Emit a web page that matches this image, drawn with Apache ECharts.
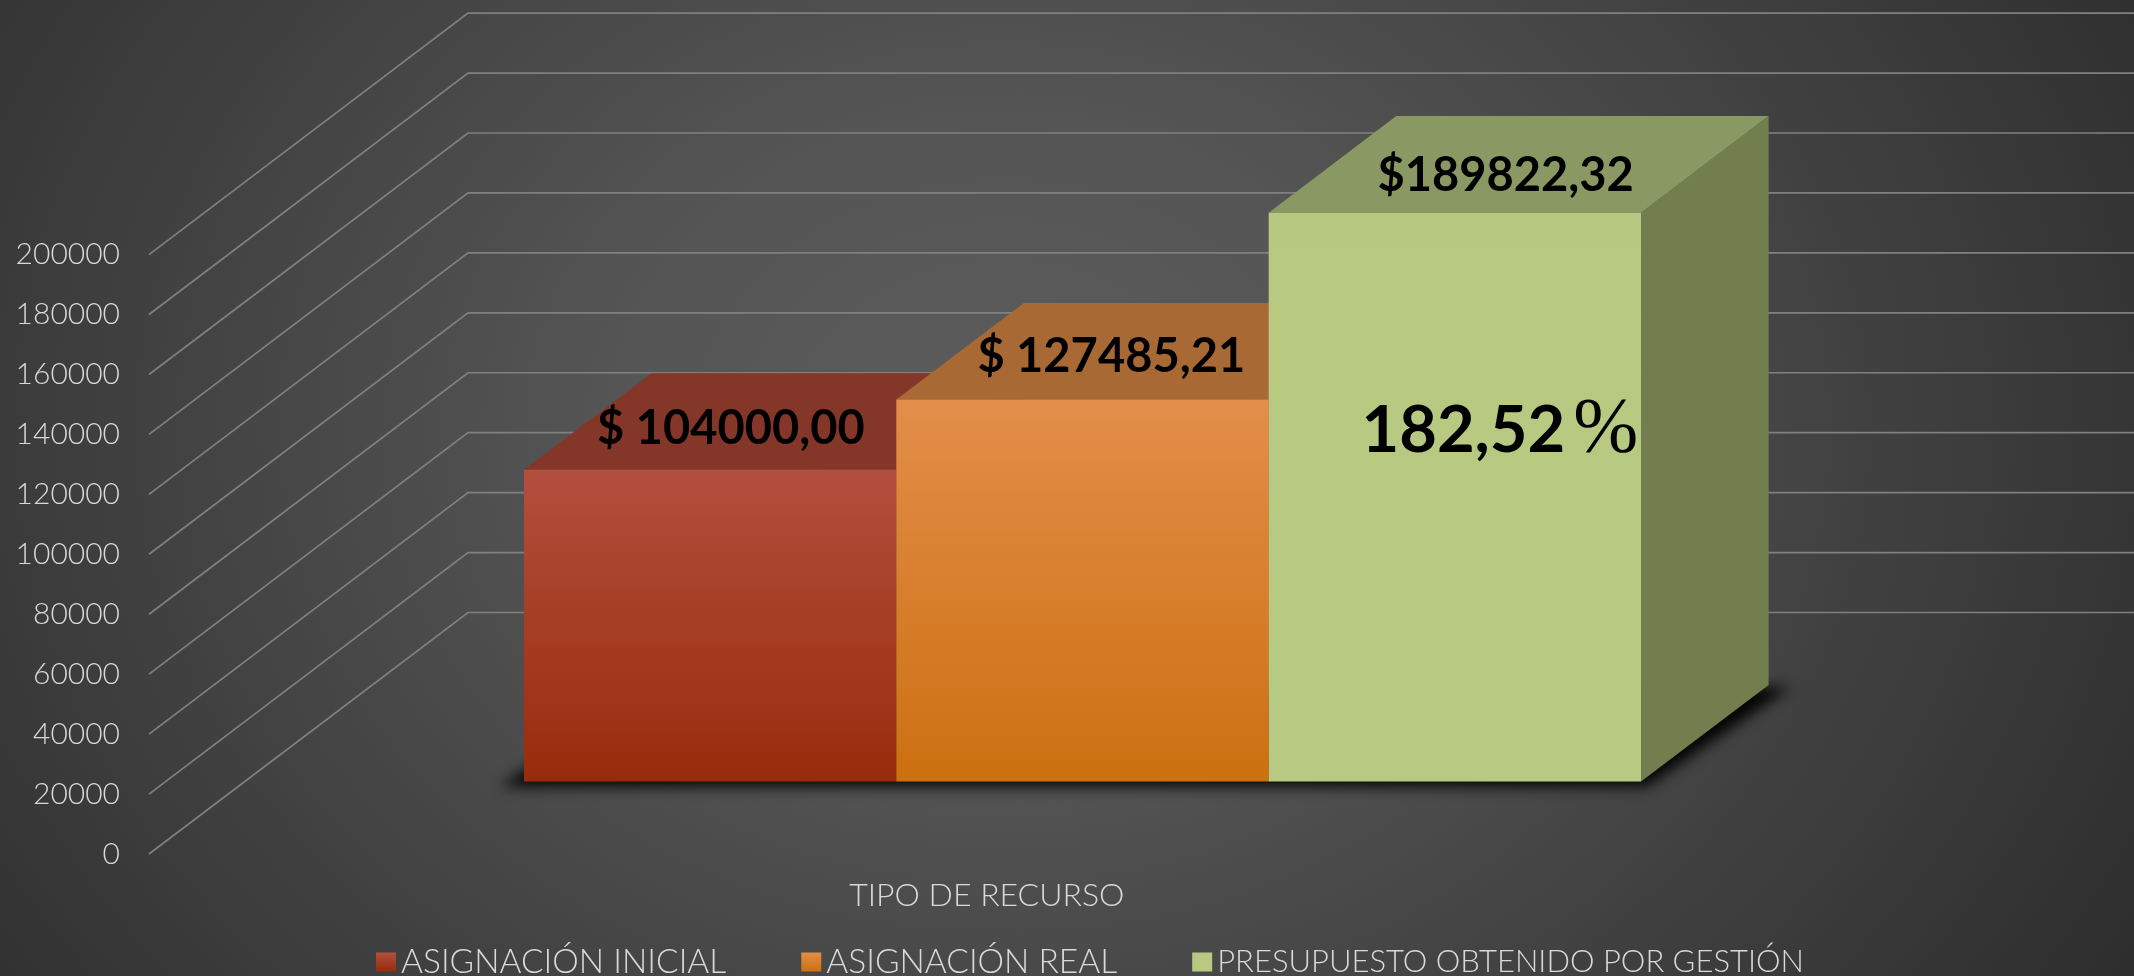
<!DOCTYPE html>
<html>
<head>
<meta charset="utf-8">
<style>
  html, body { margin: 0; height: 100%; }
  body { background: radial-gradient(ellipse 1300px 1050px at 47% 44%, #5c5c5c 0%, #555 30%, #2e2e2e 100%); }
  #chart { width: 2134px; height: 976px; }
</style>
<script src="https://cdn.jsdelivr.net/npm/echarts@6/dist/echarts.min.js"></script>
</head>
<body>
<div id="chart"></div>
<script>
const categories = ["TIPO DE RECURSO"]
const seriesNames = ["ASIGNACIÓN INICIAL", "ASIGNACIÓN REAL", "PRESUPUESTO OBTENIDO POR GESTIÓN"]
const seriesValues = [104000, 127485.21, 189822.32]
const valueLabels = ["$ 104000,00", "$ 127485,21", "$189822,32"]
const percentValue = "182,52"
const percentSign = "%"
const yTicks = [0, 20000, 40000, 60000, 80000, 100000, 120000, 140000, 160000, 180000, 200000]

// look of the fake 3d box
const DEPTH_X = 319
const DEPTH_Y = 241.5
const BAR_FRONT = 0.3
const BAR_BACK = 0.7
const GAP_WIDTH = 1.5
const FONT = "Lato, 'Open Sans', sans-serif"
const SHADOW_SHIFT = 4000
const legendSizes = [33.5, 33.5, 31]
const faceColors = [
  { top: "#B34F3E", bottom: "#982B0B", cap: "#843629", side: "#6e2c20" },
  { top: "#E38E4A", bottom: "#CC7010", cap: "#A96935", side: "#8f5a2c" },
  { top: "#B7C981", bottom: "#B8CA82", cap: "#8A9963", side: "#737E4F" },
]
const labelShift = [[-43, 7], [-35, 6], [-13, 11]]

const frontGradient = (c) =>
  new echarts.graphic.LinearGradient(0, 0, 0, 1, [
    { offset: 0, color: c.top },
    { offset: 1, color: c.bottom },
  ])

// front-left and front-right x of a bar, y of its base and of its top, on the bar's front plane
const barBox = (api, i, value) => {
  const base = api.coord([0, 0])
  const top = api.coord([0, value])
  const barW = api.size([1, 0])[0] / (seriesValues.length + GAP_WIDTH)
  const left = base[0] - (barW * seriesValues.length) / 2 + barW * i + DEPTH_X * BAR_FRONT
  return {
    x0: left,
    x1: left + barW,
    y0: base[1] - DEPTH_Y * BAR_FRONT,
    y1: top[1] - DEPTH_Y * BAR_FRONT,
    dx: DEPTH_X * (BAR_BACK - BAR_FRONT),
    dy: DEPTH_Y * (BAR_BACK - BAR_FRONT),
  }
}

const renderGrid = (params, api) => {
  const p = api.coord([0, api.value(1)])
  const half = api.size([1, 0])[0] / 2
  return {
    type: "polyline",
    shape: {
      points: [
        [p[0] - half, p[1]],
        [p[0] - half + DEPTH_X, p[1] - DEPTH_Y],
        [p[0] + half + DEPTH_X, p[1] - DEPTH_Y],
      ],
    },
    style: { fill: null, stroke: "#808080", lineWidth: 1.7 },
  }
}

// whole row footprint is drawn off the page, only its blurred shadow lands under the bars
const renderShadow = (params, api) => {
  const first = barBox(api, 0, 0)
  const last = barBox(api, seriesValues.length - 1, 0)
  return {
    type: "polygon",
    x: -SHADOW_SHIFT,
    shape: {
      points: [
        [first.x0 - 24, first.y0 + 5],
        [last.x1 + 6, last.y0 + 5],
        [last.x1 + last.dx + 22, last.y0 - last.dy + 2],
        [first.x0 + first.dx, first.y0 - first.dy],
      ],
    },
    style: {
      fill: "#000",
      shadowColor: "rgba(0,0,0,0.95)",
      shadowBlur: 14,
      shadowOffsetX: SHADOW_SHIFT,
    },
  }
}

const renderBar = (i) => (params, api) => {
  const b = barBox(api, i, api.value(1))
  const c = faceColors[i]
  const children = [
    {
      type: "polygon",
      shape: { points: [[b.x1, b.y1], [b.x1 + b.dx, b.y1 - b.dy], [b.x1 + b.dx, b.y0 - b.dy], [b.x1, b.y0]] },
      style: { fill: c.side },
    },
    {
      type: "polygon",
      shape: { points: [[b.x0, b.y1], [b.x0 + b.dx, b.y1 - b.dy], [b.x1 + b.dx, b.y1 - b.dy], [b.x1, b.y1]] },
      style: { fill: c.cap },
    },
    {
      type: "rect",
      shape: { x: b.x0, y: b.y1, width: b.x1 - b.x0, height: b.y0 - b.y1 },
      style: { fill: frontGradient(c) },
    },
    {
      type: "text",
      x: (b.x0 + b.x1 + b.dx) / 2 + labelShift[i][0],
      y: b.y1 - b.dy / 2 + labelShift[i][1],
      style: {
        text: valueLabels[i],
        fill: "#000",
        font: "700 47px " + FONT,
        align: "center",
        verticalAlign: "middle",
      },
    },
  ]
  if (i === seriesValues.length - 1) {
    children.push({
      type: "text",
      x: (b.x0 + b.x1) / 2 + 45,
      y: b.y1 + 218,
      style: {
        text: "{n|" + percentValue + "}{p|" + percentSign + "}",
        fill: "#000",
        align: "center",
        verticalAlign: "middle",
        rich: {
          n: { font: "700 65px " + FONT, fill: "#000" },
          p: { font: "400 78px 'Liberation Serif', serif", fill: "#000", padding: [0, 0, 0, 8] },
        },
      },
    })
  }
  return { type: "group", children }
}

const option = {
  animation: false,
  backgroundColor: "transparent",
  textStyle: { fontFamily: FONT },
  grid: { left: 149, top: 254.6, width: 1675.6, height: 599.4 },
  legend: {
    left: 371,
    top: 940,
    icon: "rect",
    itemWidth: 20,
    itemHeight: 19,
    itemGap: 75,
    data: seriesNames.map((name, i) => ({ name, textStyle: { fontSize: legendSizes[i] } })),
    textStyle: { color: "#d9d9d9", fontSize: 33.5, fontWeight: 300, fontFamily: FONT },
  },
  xAxis: {
    type: "category",
    data: categories,
    axisLine: { show: false },
    axisTick: { show: false },
    axisLabel: { color: "#d9d9d9", fontSize: 32, fontWeight: 300, margin: 26 },
  },
  yAxis: {
    type: "value",
    min: 0,
    max: 200000,
    interval: 20000,
    axisLine: { show: false },
    axisTick: { show: false },
    splitLine: { show: false },
    axisLabel: { color: "#d9d9d9", fontSize: 30, fontWeight: 300, margin: 29, formatter: (v) => String(v) },
  },
  series: [
    {
      type: "custom",
      name: "grid",
      silent: true,
      z: 1,
      renderItem: renderGrid,
      data: yTicks.map((v) => [0, v]),
    },
    {
      type: "custom",
      name: "shadow",
      silent: true,
      z: 2,
      renderItem: renderShadow,
      data: [[0, 0]],
    },
    ...seriesNames.map((name, i) => ({
      type: "custom",
      name,
      z: 3,
      renderItem: renderBar(i),
      itemStyle: { color: frontGradient(faceColors[i]) },
      data: [[0, seriesValues[i]]],
    })),
  ],
}

const chart = echarts.init(document.getElementById("chart"))
chart.setOption(option)
</script>
</body>
</html>
